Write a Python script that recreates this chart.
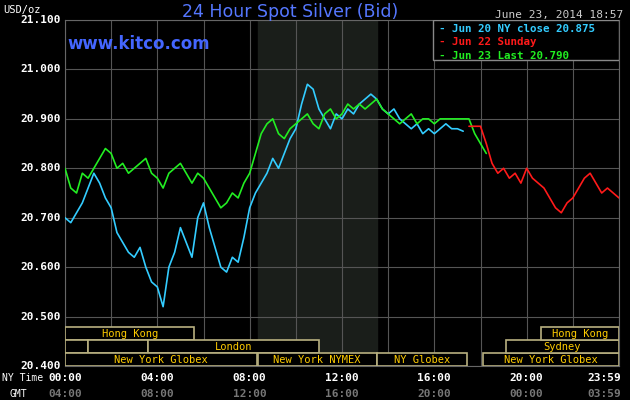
import numpy as np, pandas as pd, matplotlib
matplotlib.use("Agg")
import matplotlib.pyplot as plt, seaborn as sns
from matplotlib.patches import Rectangle

blue_vals = [20.70,20.69,20.71,20.73,20.76,20.79,20.77,20.74,20.72,20.67,20.65,20.63,20.62,20.64,20.60,20.57,20.56,20.52,20.60,20.63,20.68,20.65,20.62,20.70,20.73,20.68,20.64,20.60,20.59,20.62,20.61,20.66,20.72,20.75,20.77,20.79,20.82,20.80,20.83,20.86,20.88,20.93,20.97,20.96,20.92,20.90,20.88,20.91,20.90,20.92,20.91,20.93,20.94,20.95,20.94,20.92,20.91,20.92,20.90,20.89,20.88,20.89,20.87,20.88,20.87,20.88,20.89,20.88,20.88,20.875]
green_vals = [20.80,20.76,20.75,20.79,20.78,20.80,20.82,20.84,20.83,20.80,20.81,20.79,20.80,20.81,20.82,20.79,20.78,20.76,20.79,20.80,20.81,20.79,20.77,20.79,20.78,20.76,20.74,20.72,20.73,20.75,20.74,20.77,20.79,20.83,20.87,20.89,20.90,20.87,20.86,20.88,20.89,20.90,20.91,20.89,20.88,20.91,20.92,20.90,20.91,20.93,20.92,20.93,20.92,20.93,20.94,20.92,20.91,20.90,20.89,20.90,20.91,20.89,20.90,20.90,20.89,20.90,20.90,20.90,20.90,20.90,20.90,20.87,20.85,20.83]
red_vals = [20.885,20.885,20.885,20.85,20.81,20.79,20.80,20.78,20.79,20.77,20.80,20.78,20.77,20.76,20.74,20.72,20.71,20.73,20.74,20.76,20.78,20.79,20.77,20.75,20.76,20.75,20.74]
step = 0.25
red_start = 17.5
y_ticks = [20.4,20.5,20.6,20.7,20.8,20.9,21.0,21.1]
x_ticks = [0,4,8,12,16,20,24]
ny_labels = ["00:00","04:00","08:00","12:00","16:00","20:00","23:59"]
gmt_labels = ["04:00","08:00","12:00","16:00","20:00","00:00","03:59"]
sessions = [("Hong Kong",0,5.6,2),("",0,1,1),("",1,3.6,1),("London",3.6,11,1),
            ("New York Globex",0,8.3,0),("New York NYMEX",8.35,13.5,0),("NY Globex",13.5,17.4,0),
            ("New York Globex",18.1,24,0),("Sydney",19.1,24,1),("Hong Kong",20.6,24,2)]
legend_items = [("Jun 20 NY close 20.875","#33ccff"),("Jun 22 Sunday","#ff1a1a"),("Jun 23 Last 20.790","#22ee22")]

df = pd.concat([
    pd.DataFrame({"h":np.arange(len(blue_vals))*step,"v":blue_vals,"s":"blue"}),
    pd.DataFrame({"h":np.arange(len(green_vals))*step,"v":green_vals,"s":"green"}),
    pd.DataFrame({"h":red_start+np.arange(len(red_vals))*step,"v":red_vals,"s":"red"})])

sns.set_style("dark")
mono = "DejaVu Sans Mono"
fig = plt.figure(figsize=(6.3,4), dpi=100, facecolor="black")
ax = fig.add_axes([65/630, 34/400, 554/630, 346/400])
ax.set_facecolor("black")
ax.axvspan(8.35,13.5,color="#1a1e1a",zorder=0)
sns.lineplot(data=df,x="h",y="v",hue="s",palette={"blue":"#33ccff","green":"#22ee22","red":"#ff1a1a"},
             ax=ax,legend=False,lw=1.2,zorder=3)
ax.set_xlim(0,24); ax.set_ylim(20.4,21.1)
ax.set_xticks(np.arange(0,25,2)); ax.set_yticks(y_ticks)
ax.grid(True,color="#555555",lw=0.8)
ax.tick_params(length=0,labelbottom=False,labelleft=False)
ax.set_xlabel(""); ax.set_ylabel("")
for s in ax.spines.values(): s.set_color("#666666")
for y in y_ticks:
    ax.text(-0.008,y,f"{y:.3f}",transform=ax.get_yaxis_transform(),ha="right",va="center",
            color="white",fontsize=8,family=mono,fontweight="bold")
for x,a,b in zip(x_ticks,ny_labels,gmt_labels):
    ha = "right" if x == 24 else "center"
    xx = 24.1 if x == 24 else x
    ax.text(xx,-0.035,a,transform=ax.get_xaxis_transform(),ha=ha,va="center",color="white",fontsize=8,family=mono,fontweight="bold")
    ax.text(xx,-0.08,b,transform=ax.get_xaxis_transform(),ha=ha,va="center",color="#777777",fontsize=8,family=mono,fontweight="bold")
fig.text(0.003,34/400-0.035*346/400,"NY Time",color="white",fontsize=7,family=mono,va="center")
fig.text(0.015,34/400-0.08*346/400,"GMT",color="white",fontsize=7,family=mono,va="center")
fig.text(0.005,0.975,"USD/oz",color="white",fontsize=7.5,family=mono,va="center")
rh = 0.026
for lab,a,b,r in sessions:
    ax.add_patch(Rectangle((a,20.4+r*rh),b-a,rh,fill=True,fc="black",ec="#b8b080",lw=1.2,zorder=4))
    if lab: ax.text((a+b)/2,20.4+r*rh+rh/2,lab,ha="center",va="center",color="#ffcc00",fontsize=7.5,family=mono,zorder=5)
fig.text(0.46,0.97,"24 Hour Spot Silver (Bid)",color="#5577ff",fontsize=12.5,ha="center",va="center")
ax.text(0.005,0.93,"www.kitco.com",transform=ax.transAxes,color="#4466ff",fontsize=12,fontweight="bold",va="center")
fig.text(0.99,0.963,"June 23, 2014 18:57",color="#cccccc",fontsize=8,family=mono,ha="right",va="center")
ax.add_patch(Rectangle((0.665,0.885),0.335,0.115,transform=ax.transAxes,fc="black",ec="#888888",lw=1,zorder=6))
for i,(t,c) in enumerate(legend_items):
    ax.text(0.675,0.975-i*0.04,"- "+t,transform=ax.transAxes,color=c,fontsize=7.8,family=mono,fontweight="bold",va="center",zorder=7)
fig.savefig("out.png",dpi=100,facecolor="black")
